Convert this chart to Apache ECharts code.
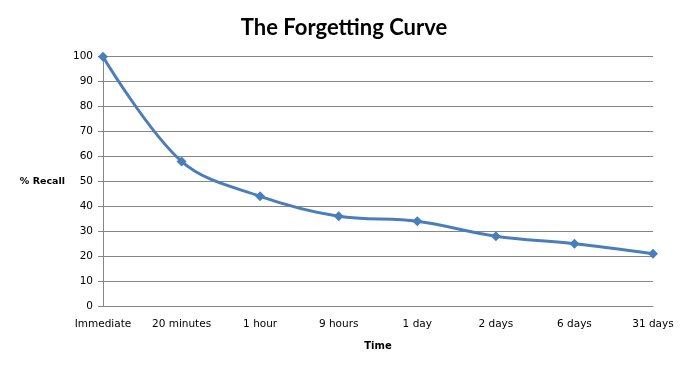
<!DOCTYPE html>
<html><head><meta charset="utf-8">
<script src="https://cdn.jsdelivr.net/npm/echarts@6/dist/echarts.min.js"></script>
<style>html,body{margin:0;padding:0;background:#fff}#c{width:688px;height:368px}</style>
</head><body><div id="c"></div>
<script>
var categories = ['Immediate','20 minutes','1 hour','9 hours','1 day','2 days','6 days','31 days'];
var recall = [100, 58, 44, 36, 34, 28, 25, 21];
var yTicks = {min: 0, max: 100, interval: 10};

var chart = echarts.init(document.getElementById('c'));
var labelFont = {fontFamily: 'DejaVu Sans', fontSize: 10.5, color: '#000'};
chart.setOption({
  animation: false,
  backgroundColor: '#fff',
  title: {
    text: 'The Forgetting Curve', left: 'center', top: 12,
    textStyle: {fontFamily: 'Lato', fontWeight: 'bold', fontSize: 22, color: '#000'}
  },
  grid: {left: 103, right: 35, top: 56.7, bottom: 62},
  xAxis: {
    type: 'category', data: categories, boundaryGap: false,
    name: 'Time', nameLocation: 'middle', nameGap: 35,
    nameTextStyle: {fontFamily: 'DejaVu Sans', fontSize: 10, fontWeight: 'bold', color: '#000'},
    axisLine: {lineStyle: {color: '#868686', width: 1}},
    axisTick: {show: false},
    axisLabel: Object.assign({margin: 13, interval: 0}, labelFont),
    splitLine: {show: false}
  },
  yAxis: {
    type: 'value', min: yTicks.min, max: yTicks.max, interval: yTicks.interval,
    name: '% Recall', nameLocation: 'middle', nameRotate: 0, nameGap: 38,
    nameTextStyle: {fontFamily: 'DejaVu Sans', fontSize: 9.5, fontWeight: 'bold', color: '#000', align: 'right'},
    axisLine: {show: true, lineStyle: {color: '#868686', width: 1}},
    axisTick: {show: true, length: 5, lineStyle: {color: '#868686'}},
    axisLabel: Object.assign({margin: 10}, labelFont),
    splitLine: {lineStyle: {color: '#868686', width: 1}}
  },
  series: [{
    type: 'line', data: recall, smooth: 0.35,
    symbol: 'diamond', symbolSize: 10,
    lineStyle: {color: '#4a7ebb', width: 3},
    itemStyle: {color: '#4a7ebb'}
  }]
});
</script></body></html>
